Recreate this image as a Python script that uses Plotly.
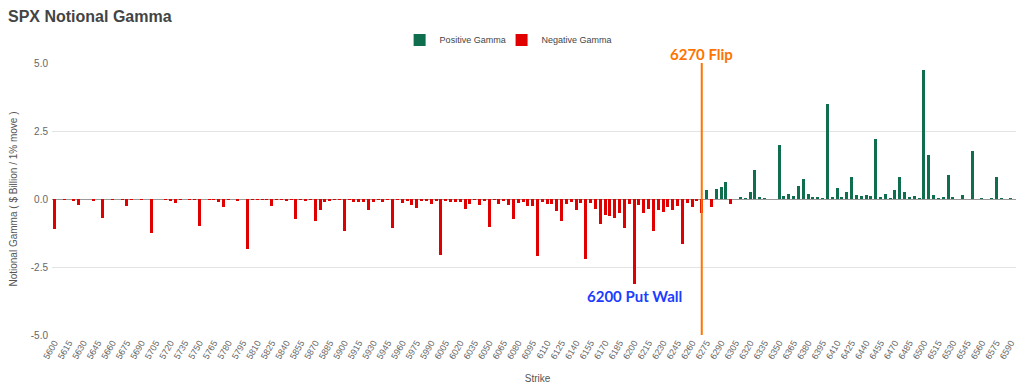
import plotly.graph_objects as go

# Strikes 5600..6600 step 5
strikes = list(range(5600, 6605, 5))

gamma = [
    -1.1, 0, -0.03, 0, -0.06, -0.22, 0, 0, -0.06, 0,            # 5600-5645
    -0.69, 0, -0.03, 0, -0.03, -0.25, -0.03, 0, -0.03, 0,       # 5650-5695
    -1.24, 0, 0, -0.03, -0.07, -0.16, -0.03, 0, -0.03, -0.03,   # 5700-5745
    -0.98, 0, -0.03, -0.03, -0.1, -0.29, -0.03, 0, -0.06, 0,    # 5750-5795
    -1.82, -0.03, -0.03, -0.03, -0.03, -0.26, -0.03, -0.03, -0.06, -0.03,  # 5800-5845
    -0.72, -0.03, -0.09, -0.03, -0.82, -0.42, -0.1, -0.09, -0.03, -0.03,   # 5850-5895
    -1.18, -0.03, -0.1, -0.1, -0.1, -0.39, -0.1, -0.03, -0.1, -0.03,       # 5900-5945
    -1.08, -0.03, -0.13, -0.07, -0.23, -0.34, -0.07, -0.07, -0.2, -0.05,   # 5950-5995
    -2.05, -0.04, -0.1, -0.1, -0.1, -0.37, -0.18, -0.03, -0.23, -0.07,     # 6000-6045
    -1.04, -0.03, -0.2, -0.05, -0.22, -0.75, -0.16, -0.1, -0.26, -0.26,    # 6050-6095
    -2.08, -0.1, -0.2, -0.2, -0.44, -0.8, -0.18, -0.1, -0.41, -0.15,       # 6100-6145
    -2.2, -0.15, -0.38, -0.91, -0.58, -0.62, -0.69, -0.53, -1.08, -0.2,    # 6150-6195
    -3.11, -0.23, -0.5, -0.36, -1.19, -0.42, -0.48, -0.28, -0.42, -0.27,   # 6200-6245
    -1.67, -0.16, -0.28, -0.06, -0.53, 0.33, -0.28, 0.36, 0.43, 0.64,      # 6250-6295
    -0.18, 0, 0.07, 0.02, 0.27, 1.07, 0.05, 0.03, 0, 0,                    # 6300-6345
    2.0, 0.12, 0.2, 0.12, 0.46, 0.72, 0.2, 0.06, 0.05, 0.03,               # 6350-6395
    3.49, 0.05, 0.42, 0.05, 0.26, 0.8, 0.15, 0.11, 0.15, 0.11,             # 6400-6445
    2.22, 0.07, 0.18, 0.02, 0.32, 0.8, 0.26, 0.05, 0.1, 0.02,              # 6450-6495
    4.76, 1.61, 0.15, 0.02, 0.06, 0.87, 0.07, 0, 0.15, 0,                  # 6500-6545
    1.77, 0, 0.03, 0, 0.03, 0.82, 0.02, 0, 0.02, 0,                        # 6550-6595
    3.14,                                                                  # 6600
]

tick_strikes = list(range(5600, 6591, 15))
y_ticks = [-5, -2.5, 0, 2.5, 5]
y_tick_labels = ["-5.0", "-2.5", "0.0", "2.5", "5.0"]

flip_strike = 6270
put_wall_strike = 6200

pos_vals = [v if v > 0 else None for v in gamma]
neg_vals = [v if v <= 0 else None for v in gamma]

GREEN = "#0e6e4e"
RED = "#e00000"
ORANGE = "#ff7300"
BLUE = "#1c3cff"

fig = go.Figure()
fig.add_trace(go.Bar(x=strikes, y=pos_vals, name="Positive Gamma", legend="legend",
                     marker=dict(color=GREEN, line=dict(width=0)), width=3.1))
fig.add_trace(go.Bar(x=strikes, y=neg_vals, name="Negative Gamma", legend="legend2",
                     marker=dict(color=RED, line=dict(width=0)), width=3.1))

fig.add_shape(type="line", x0=flip_strike, x1=flip_strike, xref="x",
              y0=0, y1=1.0, yref="paper", line=dict(color=ORANGE, width=2))

fig.add_annotation(x=flip_strike, y=1.033, xref="x", yref="paper",
                   text="<b>%d Flip</b>" % flip_strike, showarrow=False,
                   font=dict(family="Lato, Open Sans, sans-serif", size=15, color=ORANGE),
                   xanchor="center", yanchor="middle")
fig.add_annotation(x=put_wall_strike, y=-3.58, xref="x", yref="y",
                   text="<b>%d Put Wall</b>" % put_wall_strike, showarrow=False,
                   font=dict(family="Lato, Open Sans, sans-serif", size=15, color=BLUE),
                   xanchor="center", yanchor="middle")

legend_style = dict(orientation="h", yanchor="middle", y=1.085, xanchor="left",
                    font=dict(size=9, color="#444444"), itemwidth=30,
                    bgcolor="rgba(0,0,0,0)")

# page body has an 8px margin, so the figure is sized to fit the 1024x392 window
fig.update_layout(
    width=1016, height=384,
    paper_bgcolor="white", plot_bgcolor="white",
    margin=dict(l=44, r=1, t=55, b=57, autoexpand=False),
    barmode="relative", bargap=0,
    font=dict(family="Liberation Sans, Arial, sans-serif", color="#666666", size=10),
    title=dict(text="<b>SPX Notional Gamma</b>", x=0.0, xref="container", xanchor="left",
               y=1 - 8 / 384, yref="container", yanchor="middle",
               font=dict(family="Liberation Sans, Arial, sans-serif", size=16, color="#444444")),
    legend=dict(legend_style, x=0.358),
    legend2=dict(legend_style, x=0.463),
    showlegend=True,
)

fig.update_xaxes(range=[5597.5, 6602.5], tickmode="array", tickvals=tick_strikes,
                 ticktext=[str(s) for s in tick_strikes], tickangle=-60,
                 tickfont=dict(size=9, color="#666666"), showgrid=False, zeroline=False,
                 showline=False, ticks="", automargin=False,
                 title=dict(text="Strike", font=dict(size=10, color="#555555"), standoff=14))
fig.update_yaxes(range=[-5, 5], tickmode="array", tickvals=y_ticks, ticktext=y_tick_labels,
                 tickfont=dict(size=10, color="#666666"), showgrid=True, gridcolor="#e3e3e3",
                 gridwidth=1, zeroline=True, zerolinecolor="#9a9a9a", zerolinewidth=1,
                 showline=False, ticks="", automargin=False, ticklabelstandoff=3,
                 title=dict(text="Notional Gamma ( $ Billion / 1% move )",
                            font=dict(size=10, color="#555555"), standoff=12))

fig.write_html("out.html")
